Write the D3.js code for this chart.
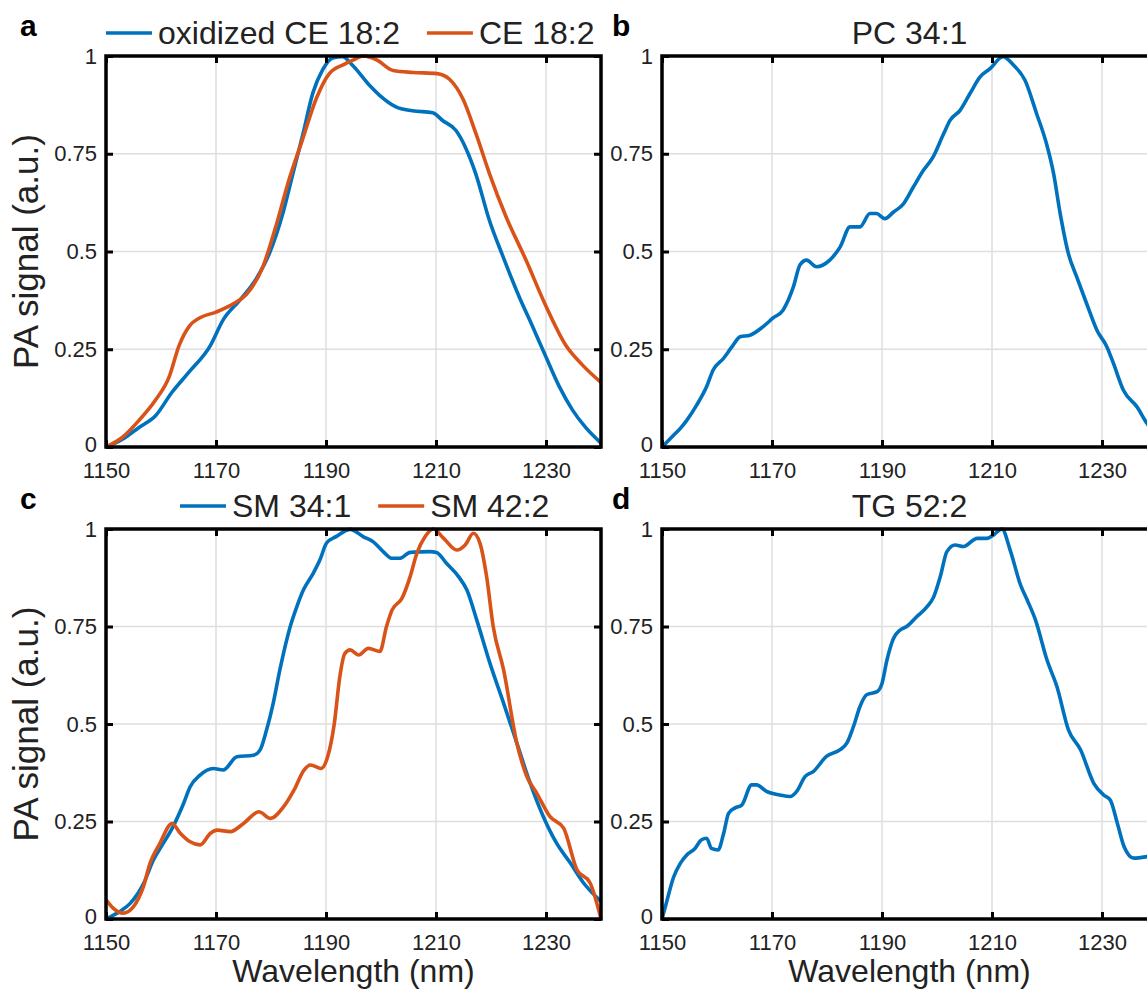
<!DOCTYPE html>
<html>
<head>
<meta charset="utf-8">
<script src="https://cdn.jsdelivr.net/npm/d3@7"></script>
<style>
  body { margin: 0; background: #fff; }
  svg { display: block; font-family: "Liberation Sans", Arial, Helvetica, sans-serif; }
</style>
</head>
<body>
<script>
// x ticks (nm) and y ticks (a.u.)
const wavelengthTicks = [1150, 1170, 1190, 1210, 1230];
const signalTicks = [0, 0.25, 0.5, 0.75, 1];

// panel a
const oxidizedCE182 = [[1150,0],[1153,0.02],[1156,0.05],[1159,0.08],[1162,0.14],[1165,0.19],[1169,0.26],[1171.3,0.325],[1174.3,0.375],[1177.3,0.43],[1179.7,0.495],[1182.2,0.6],[1184,0.7],[1185.8,0.8],[1187.6,0.905],[1189.4,0.965],[1191.2,0.995],[1193,0.998],[1194.9,0.975],[1197.9,0.925],[1199.7,0.9],[1202.7,0.87],[1205.7,0.86],[1209.4,0.855],[1211.2,0.835],[1213.6,0.81],[1215.4,0.765],[1217.2,0.7],[1219.7,0.58],[1222.1,0.49],[1225.1,0.385],[1227.5,0.31],[1230,0.23],[1232.4,0.155],[1234.8,0.095],[1237.2,0.05],[1240,0.01]];
const ce182 = [[1150,0],[1153,0.025],[1156,0.068],[1159,0.12],[1161.5,0.18],[1163.3,0.26],[1165.2,0.31],[1167,0.33],[1170,0.345],[1173,0.365],[1175.5,0.39],[1178.5,0.46],[1180.9,0.565],[1183.3,0.685],[1185.7,0.785],[1188.2,0.89],[1190.6,0.955],[1193.2,0.978],[1195,0.99],[1196.8,1],[1199.2,0.99],[1202.2,0.963],[1205.8,0.958],[1210.2,0.955],[1212.5,0.94],[1214.9,0.89],[1217.3,0.8],[1219.7,0.7],[1222.7,0.59],[1226.3,0.48],[1230,0.36],[1233.6,0.26],[1236.6,0.21],[1240,0.165]];

// panel b
const pc341 = [[1150,0],[1152.1,0.03],[1153.3,0.047],[1154.5,0.068],[1156.3,0.107],[1158.1,0.154],[1159.3,0.197],[1161.2,0.227],[1162.7,0.256],[1164.2,0.282],[1166,0.286],[1168.4,0.308],[1170.2,0.33],[1172,0.35],[1173.9,0.41],[1175.1,0.466],[1176.3,0.478],[1178.1,0.461],[1180.5,0.478],[1182.4,0.512],[1184.2,0.563],[1186,0.563],[1187.8,0.597],[1189,0.597],[1190.5,0.584],[1192.1,0.601],[1193.9,0.622],[1195.7,0.665],[1197.5,0.707],[1199.3,0.742],[1201.2,0.801],[1202.4,0.836],[1204.2,0.861],[1206,0.904],[1207.8,0.946],[1209.6,0.967],[1212,0.998],[1213.9,0.977],[1216,0.938],[1218.1,0.853],[1219.9,0.776],[1221.2,0.699],[1222.4,0.597],[1223.9,0.494],[1225.4,0.435],[1227.2,0.367],[1229.1,0.298],[1230.9,0.256],[1232.1,0.213],[1233.9,0.145],[1236.4,0.102],[1238.2,0.06],[1240,0.03]];

// panel c
const sm341 = [[1150,0],[1152.5,0.019],[1154.4,0.04],[1156.8,0.09],[1158.6,0.151],[1160.4,0.194],[1162.2,0.237],[1164.1,0.296],[1165.3,0.339],[1167.1,0.369],[1169.5,0.386],[1171.3,0.382],[1173.8,0.416],[1176.8,0.42],[1178,0.433],[1179.2,0.485],[1180.4,0.553],[1181.6,0.638],[1183.5,0.75],[1184.7,0.801],[1185.9,0.844],[1187.7,0.887],[1188.9,0.921],[1190.1,0.964],[1191.9,0.981],[1194.4,0.999],[1196.8,0.98],[1198.6,0.967],[1200.4,0.942],[1201.9,0.925],[1203.4,0.925],[1205.3,0.94],[1208.9,0.942],[1210.1,0.94],[1211.9,0.912],[1214.1,0.878],[1215.6,0.844],[1217.4,0.767],[1219.8,0.656],[1222.3,0.553],[1224.7,0.451],[1227.1,0.349],[1229.5,0.263],[1231.9,0.195],[1234.4,0.144],[1236.8,0.093],[1239.7,0.049],[1240,0.045]];
const sm422 = [[1150,0.049],[1151.3,0.028],[1153.1,0.015],[1155,0.032],[1156.8,0.083],[1158,0.143],[1159.8,0.194],[1162,0.245],[1163.5,0.22],[1165.3,0.198],[1167.1,0.19],[1169,0.22],[1170.2,0.228],[1172.6,0.224],[1175,0.245],[1177.8,0.275],[1179.9,0.258],[1182.3,0.288],[1184.2,0.331],[1186,0.382],[1187.2,0.395],[1189.1,0.386],[1190.3,0.416],[1191.5,0.5],[1192.5,0.62],[1193.4,0.68],[1194.4,0.69],[1195.9,0.677],[1197.7,0.694],[1199.8,0.686],[1201,0.75],[1202,0.792],[1203.8,0.822],[1205.3,0.878],[1206.5,0.937],[1208,0.98],[1209.5,1],[1211.4,0.976],[1213.8,0.946],[1215.3,0.959],[1216.8,0.989],[1218,0.963],[1219.2,0.878],[1220.4,0.75],[1222.3,0.638],[1224.7,0.451],[1226.5,0.366],[1228.3,0.323],[1230.7,0.263],[1233.2,0.233],[1235.6,0.127],[1238,0.093],[1240,0]];

// panel d
const tg522 = [[1150,0],[1150.9,0.047],[1152.1,0.107],[1153.3,0.142],[1154.5,0.164],[1156,0.181],[1157.2,0.203],[1158.1,0.207],[1159,0.181],[1160.2,0.177],[1161.2,0.219],[1162.1,0.271],[1163.3,0.285],[1164.5,0.292],[1166.3,0.344],[1167.2,0.344],[1169,0.327],[1171.4,0.318],[1173.3,0.314],[1174.5,0.327],[1176,0.365],[1177.5,0.378],[1179.9,0.417],[1182.4,0.434],[1183.6,0.451],[1184.8,0.493],[1186,0.545],[1187.2,0.575],[1189.1,0.583],[1190,0.604],[1190.9,0.664],[1192.1,0.72],[1193.3,0.741],[1194.5,0.75],[1196.3,0.775],[1198.2,0.801],[1199.4,0.826],[1200.6,0.878],[1201.8,0.942],[1203.3,0.959],[1204.8,0.955],[1207.3,0.976],[1209.1,0.976],[1210.3,0.985],[1211.8,1],[1213.3,0.946],[1215.2,0.856],[1216.4,0.818],[1217.9,0.767],[1220,0.664],[1221.8,0.596],[1223.9,0.485],[1226.1,0.434],[1228.5,0.348],[1230.3,0.318],[1231.5,0.305],[1232.8,0.245],[1234,0.186],[1235.8,0.156],[1238.2,0.16],[1240,0.165]];

const blue = "#0072BD", orange = "#D95319";
const W = 1147, H = 989;
const pw = 495;

const svg = d3.select("body").append("svg")
  .attr("width", W)
  .attr("height", H);

const panels = [
  {id:"a", left:106, top:56, h:391, ylab:true, xlab:false, legendX:106,
   series:[{data:oxidizedCE182, color:blue, name:"oxidized CE 18:2"},{data:ce182, color:orange, name:"CE 18:2"}]},
  {id:"b", left:662, top:56, h:391, ylab:false, xlab:false, title:"PC 34:1",
   series:[{data:pc341, color:blue}]},
  {id:"c", left:106, top:529, h:390, ylab:true, xlab:true, legendX:180,
   series:[{data:sm341, color:blue, name:"SM 34:1"},{data:sm422, color:orange, name:"SM 42:2"}]},
  {id:"d", left:662, top:529, h:390, ylab:false, xlab:true, title:"TG 52:2",
   series:[{data:tg522, color:blue}]}
];

panels.forEach(p => {
  const x = d3.scaleLinear().domain([1150, 1240]).range([0, pw]);
  const y = d3.scaleLinear().domain([0, 1]).range([p.h, 0]);

  const g = svg.append("g").attr("transform", `translate(${p.left},${p.top})`);

  // grid
  g.append("g").selectAll("line")
    .data(wavelengthTicks.slice(1))
    .join("line")
    .attr("x1", d => x(d)).attr("x2", d => x(d))
    .attr("y1", 0).attr("y2", p.h)
    .attr("stroke", "#dedede").attr("stroke-width", 1.5);
  g.append("g").selectAll("line")
    .data(signalTicks.slice(1, -1))
    .join("line")
    .attr("x1", 0).attr("x2", pw)
    .attr("y1", d => y(d)).attr("y2", d => y(d))
    .attr("stroke", "#dedede").attr("stroke-width", 1.5);

  // lines
  const clipId = "clip-" + p.id;
  g.append("clipPath").attr("id", clipId)
    .append("rect").attr("x", -2).attr("y", -2).attr("width", pw + 4).attr("height", p.h + 4);

  const line = d3.line()
    .x(d => x(d[0]))
    .y(d => y(d[1]))
    .curve(d3.curveMonotoneX);

  g.append("g").attr("clip-path", `url(#${clipId})`)
    .selectAll("path")
    .data(p.series)
    .join("path")
    .attr("d", s => line(s.data))
    .attr("fill", "none")
    .attr("stroke", s => s.color)
    .attr("stroke-width", 3.6)
    .attr("stroke-linejoin", "round");

  // axes
  const xb = g.append("g").attr("transform", `translate(0,${p.h})`)
    .call(d3.axisBottom(x).tickValues(wavelengthTicks).tickSize(-7).tickPadding(15).tickFormat(d3.format("d")));
  const xt = g.append("g")
    .call(d3.axisTop(x).tickValues(wavelengthTicks).tickSize(-7).tickFormat(""));
  const yl = g.append("g")
    .call(d3.axisLeft(y).tickValues(signalTicks).tickSize(-7).tickPadding(9).tickFormat(d => String(d)));
  const yr = g.append("g").attr("transform", `translate(${pw},0)`)
    .call(d3.axisRight(y).tickValues(signalTicks).tickSize(-7).tickFormat(""));

  [xb, xt, yl, yr].forEach(a => {
    a.select(".domain").remove();
    a.selectAll(".tick line").attr("stroke", "#000").attr("stroke-width", 3);
    a.selectAll(".tick text").attr("fill", "#222").style("font-size", "22px");
  });
  // lift the "0" label a touch so it clears the first x label
  yl.selectAll(".tick text").filter(d => d === 0).attr("dy", "0.2em");

  // frame
  g.append("rect")
    .attr("width", pw).attr("height", p.h)
    .attr("fill", "none").attr("stroke", "#000").attr("stroke-width", 3.5);

  // panel letter
  svg.append("text")
    .attr("x", p.left > 300 ? p.left - 50 : p.left - 86)
    .attr("y", p.top - 20)
    .attr("font-weight", "bold")
    .style("font-size", "30px")
    .text(p.id);

  if (p.title) {
    g.append("text")
      .attr("x", pw / 2).attr("y", -12)
      .attr("text-anchor", "middle")
      .style("font-size", "32px").attr("fill", "#222")
      .text(p.title);
  }

  if (p.series[0].name) {
    let lx = p.legendX - p.left;
    p.series.forEach(s => {
      g.append("line")
        .attr("x1", lx).attr("x2", lx + 46)
        .attr("y1", -23).attr("y2", -23)
        .attr("stroke", s.color).attr("stroke-width", 3.6);
      const t = g.append("text")
        .attr("x", lx + 52).attr("y", -12)
        .style("font-size", "32px").attr("fill", "#222")
        .text(s.name);
      lx = lx + 52 + t.node().getComputedTextLength() + 27;
    });
  }

  if (p.ylab) {
    svg.append("text")
      .attr("transform", `translate(38,${p.top + p.h / 2}) rotate(-90)`)
      .attr("text-anchor", "middle")
      .style("font-size", "35px").attr("fill", "#222")
      .text("PA signal (a.u.)");
  }

  if (p.xlab) {
    g.append("text")
      .attr("x", pw / 2).attr("y", p.h + 63)
      .attr("text-anchor", "middle")
      .style("font-size", "32px").attr("fill", "#222")
      .text("Wavelength (nm)");
  }
});
</script>
</body>
</html>
